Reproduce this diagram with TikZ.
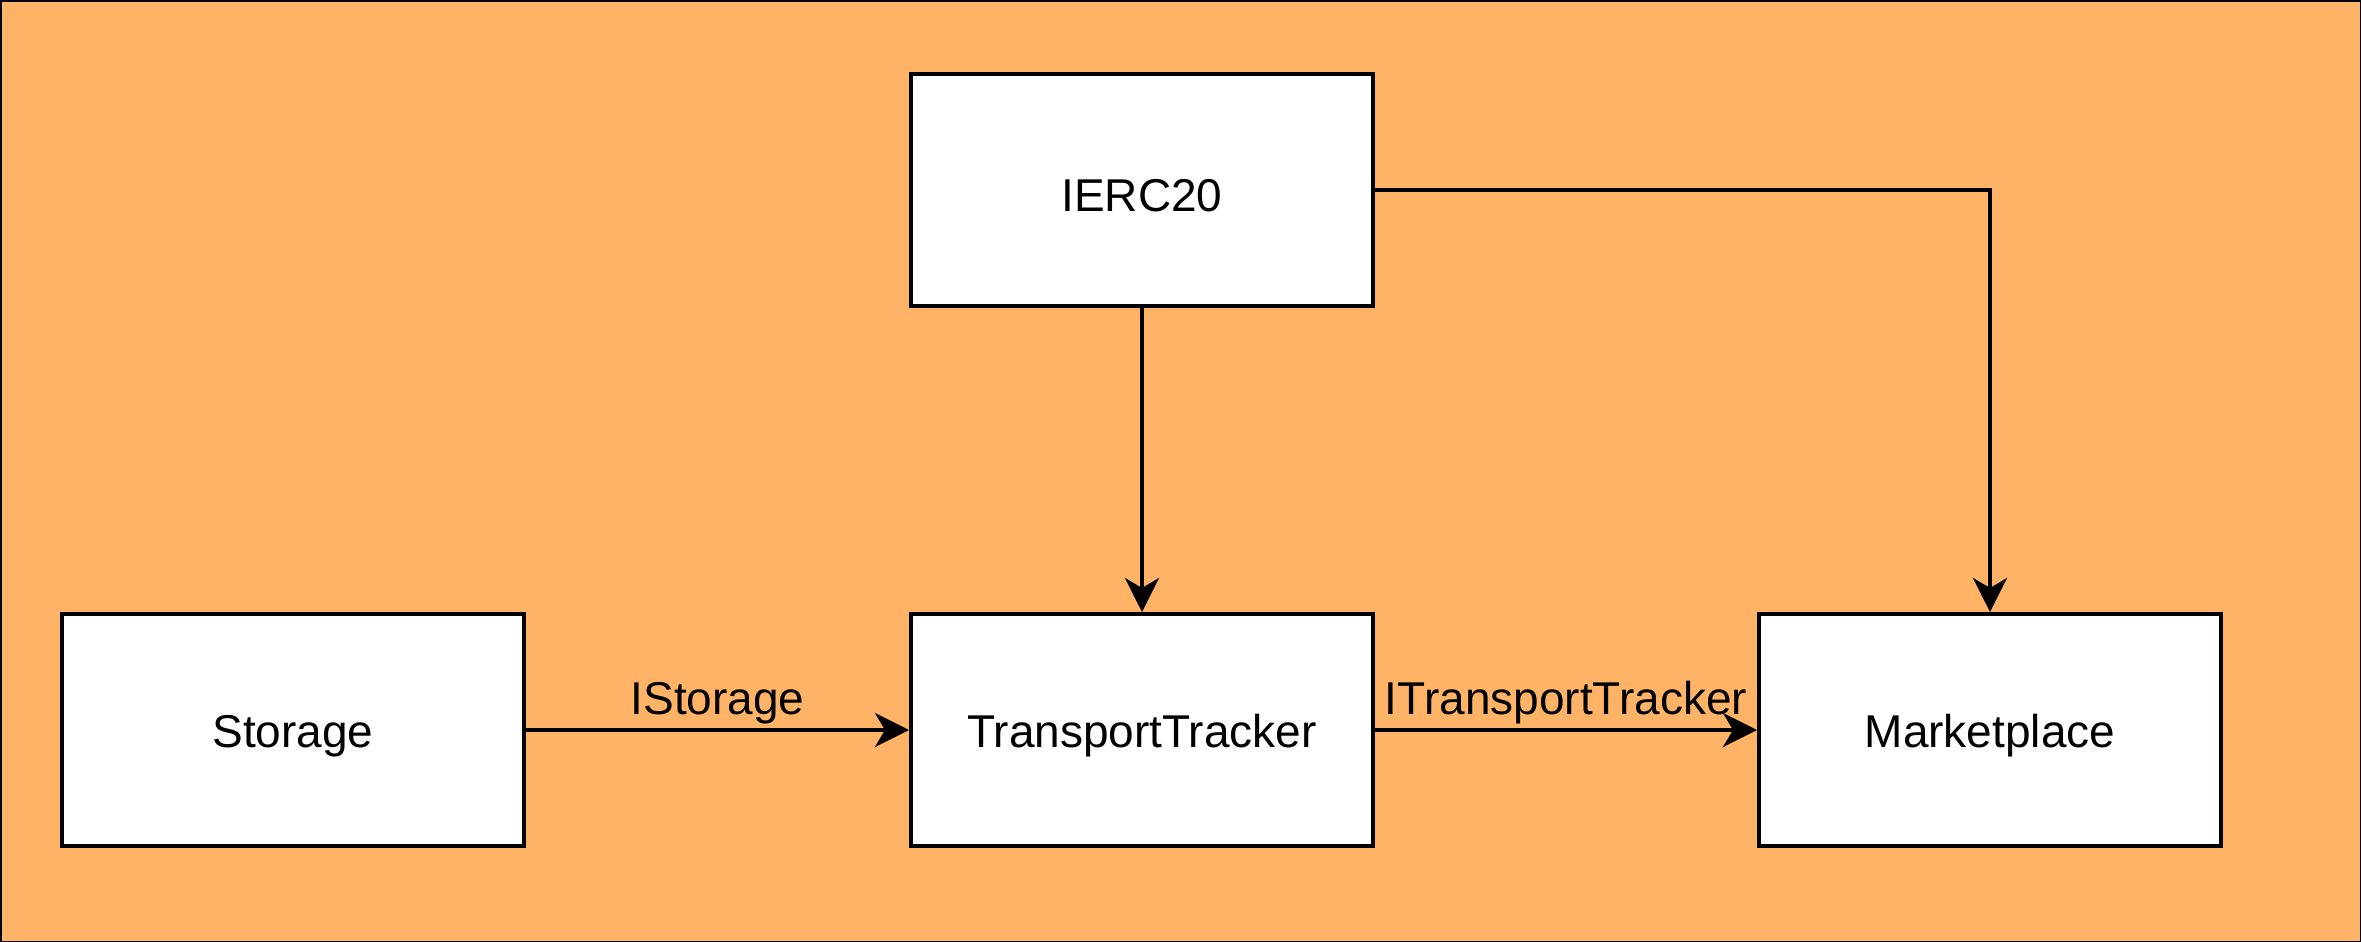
\documentclass[tikz,border=0pt]{standalone}
\usepackage{fontspec}
\setmainfont{Liberation Sans}
\usetikzlibrary{arrows.meta}
\definecolor{bgorange}{HTML}{FFB366}
\begin{document}
\begin{tikzpicture}[x=0.5pt,y=-0.5pt,
  box/.style={draw=black, fill=white, line width=2pt, minimum width=231pt, minimum height=116pt, inner sep=0pt, font=\fontsize{23}{27}\selectfont},
  conn/.style={draw=black, line width=2pt, -{Stealth[length=17pt,width=17pt,inset=5pt]}},
  lbl/.style={font=\fontsize{23}{27}\selectfont, inner sep=1pt}]
\useasboundingbox (0,0) rectangle (2361,942);
\draw[fill=bgorange, draw=black, line width=1pt] (0.5,0.5) rectangle (2360.5,941.5);
\node[box] (ierc) at (1142,190) {};
\node[box] (stor) at (293,730) {};
\node[box] (tt) at (1142,730) {};
\node[box] (mp) at (1990,730) {};
\node[font=\fontsize{23}{27}\selectfont] (tierc) at ([yshift=-3pt]ierc.center) {IERC20};
\node[font=\fontsize{23}{27}\selectfont] (tstor) at ([yshift=-3pt]stor.center) {Storage};
\node[font=\fontsize{23}{27}\selectfont] (ttt) at ([yshift=-3pt]tt.center) {TransportTracker};
\node[font=\fontsize{23}{27}\selectfont] (tmp) at ([yshift=-3pt]mp.center) {Marketplace};
\draw[conn] (ierc.south) -- (tt.north);
\draw[conn] (ierc.east) -| (mp.north);
\draw[conn] (stor.east) -- node[lbl, above=1pt] (l1) {IStorage} (tt.west);
\draw[conn] (tt.east) -- node[lbl, above=1pt] (l2) {ITransportTracker} (mp.west);
\end{tikzpicture}
\end{document}
